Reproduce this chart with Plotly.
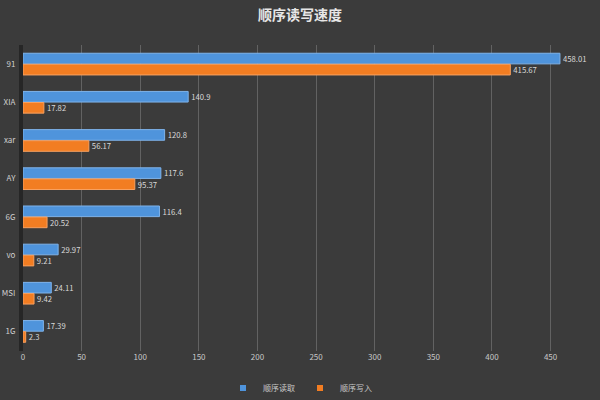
import plotly.graph_objects as go

categories = ["91", "XIA", "xar", "AY", "6G", "vo", "MSI", "1G"]
read_vals = [458.01, 140.9, 120.8, 117.6, 116.4, 29.97, 24.11, 17.39]
write_vals = [415.67, 17.82, 56.17, 95.37, 20.52, 9.21, 9.42, 2.3]
read_name = "顺序读取"
write_name = "顺序写入"
title_text = "顺序读写速度"
x_ticks = [0, 50, 100, 150, 200, 250, 300, 350, 400, 450]

font_cjk = "Noto Sans CJK SC, Noto Sans, sans-serif"
blue = "#4f94dc"
orange = "#f27d22"

fig = go.Figure()
fig.add_trace(go.Bar(
    y=categories, x=read_vals, name=read_name, orientation="h",
    marker=dict(color=blue, line=dict(color="#7fb3ea", width=1)),
    text=[str(v) for v in read_vals], textposition="outside",
    textfont=dict(color="#d8d8d8", size=8), cliponaxis=False, showlegend=False,
))
fig.add_trace(go.Bar(
    y=categories, x=write_vals, name=write_name, orientation="h",
    marker=dict(color=orange, line=dict(color="#f7a060", width=1)),
    text=[str(v) for v in write_vals], textposition="outside",
    textfont=dict(color="#d8d8d8", size=8), cliponaxis=False, showlegend=False,
))
# legend entries with small square swatches
fig.add_trace(go.Scatter(x=[None], y=[None], mode="markers", name=read_name,
                         marker=dict(symbol="square", size=6, color=blue)))
fig.add_trace(go.Scatter(x=[None], y=[None], mode="markers", name=write_name,
                         marker=dict(symbol="square", size=6, color=orange)))

fig.update_layout(
    width=600, height=400,
    paper_bgcolor="#3b3b3b", plot_bgcolor="rgba(0,0,0,0)",
    font=dict(family=font_cjk, color="#cfcfcf", size=8),
    title=dict(text="<b>" + title_text + "</b>", x=0.5, xanchor="center", y=0.962, yanchor="middle",
               font=dict(size=14, color="#e6e6e6", family=font_cjk)),
    margin=dict(l=23, r=26, t=45, b=40),
    barmode="group", bargap=0.42, bargroupgap=0.04,
    showlegend=True,
    legend=dict(orientation="h", x=0.5, xanchor="center", xref="container",
                y=0.03, yanchor="middle", yref="container",
                font=dict(size=8, color="#c8c8c8"), itemwidth=30, tracegroupgap=0),
    uniformtext=dict(minsize=7, mode="show"),
)
fig.update_xaxes(range=[0, 470], tickvals=x_ticks, showgrid=True, gridcolor="#626262",
                 gridwidth=1, zeroline=False, showline=False, ticks="",
                 tickfont=dict(size=8, color="#c8c8c8"), fixedrange=True)
fig.update_yaxes(autorange="reversed", showgrid=False, showline=True, linecolor="#262626",
                 linewidth=4, ticks="", automargin=False, ticklabelstandoff=2,
                 tickfont=dict(size=8, color="#cfcfcf"))

fig.write_html("out.html")
